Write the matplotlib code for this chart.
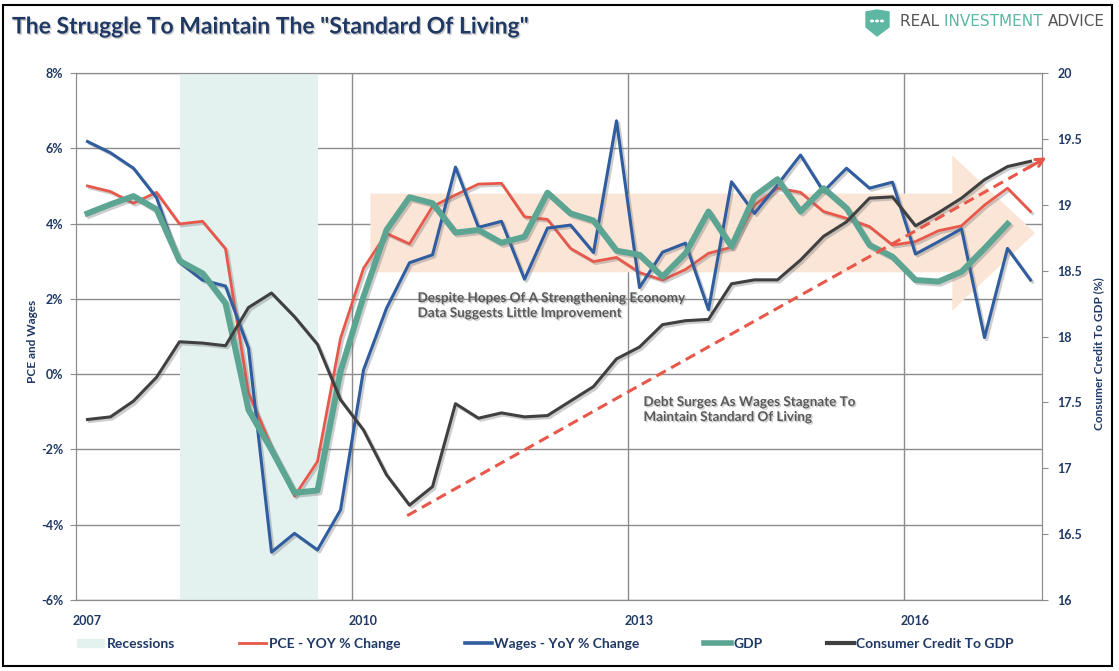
# Struggle to maintain the "standard of living" - PCE, wages, GDP vs consumer credit
import numpy as np
import pandas as pd
import matplotlib.pyplot as plt
import matplotlib.patheffects as pe
from matplotlib.patches import FancyArrow, Polygon, Rectangle, Circle, Patch
from matplotlib.lines import Line2D

plt.rcParams['font.family'] = ['Lato', 'DejaVu Sans']

# %%
# data (quarterly)
quarters = pd.period_range('2007Q1', '2017Q2', freq='Q')
pce = [5.0, 4.85, 4.54, 4.83, 3.99, 4.06, 3.33, -0.5, -1.93, -3.24, -2.32, 0.95,
       2.81, 3.74, 3.46, 4.45, 4.76, 5.05, 5.07, 4.18, 4.11, 3.34, 2.99, 3.1,
       2.7, 2.5, 2.78, 3.21, 3.37, 4.49, 4.94, 4.83, 4.32, 4.14, 3.92, 3.43,
       3.52, 3.81, 3.94, 4.49, 4.94, 4.32]
wages = [6.18, 5.88, 5.47, 4.69, 2.97, 2.5, 2.34, 0.69, -4.73, -4.23, -4.67, -3.61,
         0.11, 1.75, 2.96, 3.17, 5.5, 3.9, 4.06, 2.52, 3.88, 3.96, 3.23, 6.73,
         2.3, 3.24, 3.48, 1.71, 5.11, 4.27, 5.03, 5.82, 4.85, 5.47, 4.94, 5.1,
         3.19, 3.52, 3.86, 0.97, 3.34, 2.5]
gdp = [4.27, 4.51, 4.73, 4.38, 3.01, 2.68, 1.88, -0.95, -2.01, -3.15, -3.09, 0.07,
       2.06, 3.83, 4.7, 4.54, 3.76, 3.83, 3.49, 3.65, 4.82, 4.27, 4.08, 3.28,
       3.17, 2.59, 3.21, 4.32, 3.39, 4.73, 5.18, 4.32, 4.94, 4.41, 3.43, 3.12,
       2.5, 2.46, 2.72, 3.34, 3.99]
credit = [17.37, 17.39, 17.51, 17.69, 17.96, 17.95, 17.93, 18.22, 18.33, 18.15, 17.94, 17.52,
          17.29, 16.95, 16.72, 16.86, 17.49, 17.38, 17.42, 17.39, 17.4, 17.51, 17.62, 17.83,
          17.92, 18.09, 18.12, 18.13, 18.40, 18.43, 18.43, 18.58, 18.76, 18.87, 19.05, 19.06,
          18.84, 18.94, 19.05, 19.19, 19.29, 19.33]
rec_start, rec_end = '2008Q1', '2009Q3'
label_years = [2007, 2010, 2013, 2016]
grid_years = [2010, 2013, 2016]

x = np.arange(len(quarters))
years = list(quarters.year)
navy = '#1f3864'
c_pce, c_wage, c_gdp, c_cred = '#e8584a', '#2f5d9f', '#5ba592', '#404040'
shadow = [pe.SimpleLineShadow(offset=(1.5, -1.5), shadow_color='#707070', alpha=0.35), pe.Normal()]
tshadow = [pe.withSimplePatchShadow(offset=(1, -1), shadow_rgbFace='#999999', alpha=0.5)]

W, H = 1119, 671
fig = plt.figure(figsize=(W / 100, H / 100), dpi=100)
ax = fig.add_axes([76 / W, 1 - 600 / H, 966 / W, 527 / H])
ax.set_xlim(-0.5, len(quarters) - 0.5)
ax.set_ylim(-6, 8)

# grid
ax.set_yticks(np.arange(-6, 9, 2))
ax.yaxis.set_major_formatter(plt.FuncFormatter(lambda v, p: f'{v:.0f}%'))
ax.set_xticks([years.index(yr) - 0.5 for yr in grid_years])
ax.set_xticklabels([])
ax.set_xticks([years.index(yr) for yr in label_years], [str(yr) for yr in label_years], minor=True)
ax.grid(True, which='major', color='#8c8c8c', lw=1)
ax.set_axisbelow(True)
ax.tick_params(axis='x', which='both', length=0)
ax.tick_params(axis='x', which='minor', pad=11, labelsize=9, labelcolor=navy)
ax.tick_params(axis='y', length=4, color='#8c8c8c', labelsize=9, labelcolor=navy, pad=5)
for lab in ax.get_xticklabels(minor=True) + ax.get_yticklabels():
    lab.set_fontweight('bold')
for s in ax.spines.values():
    s.set_color('#8c8c8c')

# recession shading and big trend arrow
qs = list(quarters.astype(str))
ax.axvspan(qs.index(rec_start), qs.index(rec_end), color='#e3f2ef', lw=0, zorder=1)
ax.add_patch(FancyArrow(12.3, 3.75, 28.9, 0, width=2.09, head_width=4.12, head_length=3.6,
                        length_includes_head=True, color='#fbe5d6', lw=0, zorder=1.2))

ax.plot(x, pce, color=c_pce, lw=2.0, zorder=3, path_effects=shadow)
ax.plot(x, wages, color=c_wage, lw=2.2, zorder=3, path_effects=shadow)
ax.plot(x[:len(gdp)], gdp, color=c_gdp, lw=4.3, zorder=4, path_effects=shadow)
ax.text(-0.0455, 0.49, 'PCE and Wages', transform=ax.transAxes, rotation=90,
        ha='center', va='center', fontsize=8.5, fontweight='bold', color=navy)

# right axis
ax2 = ax.twinx()
ax2.set_ylim(16, 20)
ax2.set_yticks(np.arange(16, 20.01, 0.5))
ax2.yaxis.set_major_formatter(plt.FuncFormatter(lambda v, p: f'{v:g}'))
ax2.tick_params(axis='y', length=4, color='#8c8c8c', labelsize=9, labelcolor=navy, pad=7)
for lab in ax2.get_yticklabels():
    lab.set_fontweight('bold')
for s in ax2.spines.values():
    s.set_color('#8c8c8c')
ax2.plot(x, credit, color=c_cred, lw=2.2, zorder=3, path_effects=shadow)
ax2.text(1.059, 0.467, 'Consumer Credit To GDP (%)', transform=ax.transAxes, rotation=90,
         ha='center', va='center', fontsize=8.5, fontweight='bold', color=navy)

# dashed trend arrow
ax2.plot([13.9, 41.5], [16.64, 19.34], color=c_pce, lw=2.2, ls=(0, (3.5, 2)), zorder=5, clip_on=False)
ax2.annotate('', xy=(41.8, 19.37), xytext=(40.8, 19.27), annotation_clip=False,
             arrowprops=dict(arrowstyle='->', color=c_pce, lw=2.2, mutation_scale=14), zorder=5)

ax2.text(14.35, 18.235, 'Despite Hopes Of A Strengthening Economy\nData Suggests Little Improvement',
         ha='left', va='center', fontsize=9.7, fontweight='bold', color='#595959',
         linespacing=1.3, zorder=6, path_effects=tshadow)
ax2.text(24.17, 17.446, 'Debt Surges As Wages Stagnate To\nMaintain Standard Of Living',
         ha='left', va='center', fontsize=9.7, fontweight='bold', color='#595959',
         linespacing=1.3, zorder=6, path_effects=tshadow)

# legend
handles = [Patch(color='#e3f2ef'),
           Line2D([], [], color=c_pce, lw=2.0),
           Line2D([], [], color=c_wage, lw=2.6),
           Line2D([], [], color=c_gdp, lw=4.0),
           Line2D([], [], color=c_cred, lw=3.0)]
labels = ['Recessions', 'PCE - YOY % Change', 'Wages - YoY % Change', 'GDP', 'Consumer Credit To GDP']
leg = fig.legend(handles, labels, loc='center left', bbox_to_anchor=(77 / W, 1 - 644 / H),
                 ncol=5, frameon=False, fontsize=10, handlelength=1.95, handletextpad=0.2,
                 columnspacing=4.6, borderpad=0, borderaxespad=0, handleheight=0.55)
for t in leg.get_texts():
    t.set_color(navy)
    t.set_fontweight('bold')

# title and logo
fig.text(12 / W, 1 - 27 / H, 'The Struggle To Maintain The "Standard Of Living"', ha='left', va='center',
         fontsize=16.5, fontweight='bold', color=navy, path_effects=tshadow)


def px(a, b):
    return (a / W, 1 - b / H)


shield = [px(866, 12), px(877, 10), px(889, 12), px(889, 27), px(877, 36), px(866, 27)]
fig.patches.append(Polygon(shield, closed=True, color='#5db7a3', transform=fig.transFigure))
for dx in (872, 877, 882):
    fig.patches.append(Circle(px(dx, 21), 1.3 / W, color='white', transform=fig.transFigure))
t1 = fig.text(900 / W, 1 - 21 / H, 'REAL ', ha='left', va='center', fontsize=11,
              color='#555555', family='DejaVu Sans')
a2 = ax.annotate('INVESTMENT ', xy=(1, 0), xycoords=t1, va='bottom', ha='left',
                 fontsize=11, color='#5db7a3', family='DejaVu Sans')
ax.annotate('ADVICE', xy=(1, 0), xycoords=a2, va='bottom', ha='left',
            fontsize=11, color='#555555', family='DejaVu Sans')

# frame
fig.patches.append(Rectangle((3 / W, 5 / H), 1109 / W, 661 / H, fill=False, ec='black', lw=1.5,
                             transform=fig.transFigure))

fig.savefig('out.png', dpi=100)
